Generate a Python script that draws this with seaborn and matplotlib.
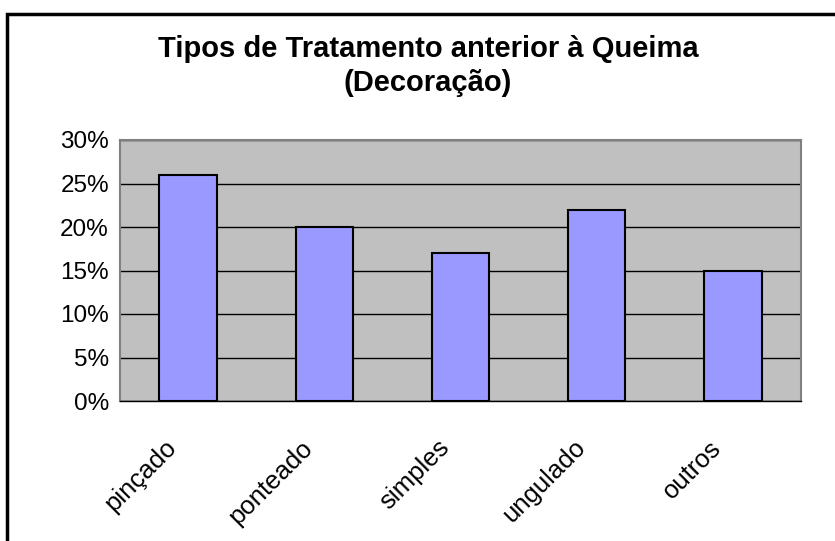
import pandas as pd
import seaborn as sns
import matplotlib.pyplot as plt
from matplotlib.patches import Rectangle
from matplotlib.ticker import FixedLocator, PercentFormatter
import matplotlib.transforms as mtransforms

categories = ["pinçado", "ponteado", "simples", "ungulado", "outros"]
values = [26, 20, 17, 22, 15]
title_lines = ["Tipos de Tratamento anterior à Queima", "(Decoração)"]

df = pd.DataFrame({"tipo": categories, "pct": values})

sns.set_style("white")
plt.rcParams["font.family"] = ["Liberation Sans", "DejaVu Sans"]
plt.rcParams["text.color"] = "black"
plt.rcParams["xtick.labelcolor"] = "black"
plt.rcParams["ytick.labelcolor"] = "black"

fig = plt.figure(figsize=(8.35, 5.41), dpi=100)
ax = fig.add_axes([120 / 835, 1 - 401 / 541, 681 / 835, 261 / 541])

sns.barplot(data=df, x="tipo", y="pct", color="#9999FF", saturation=1,
            width=0.42, edgecolor="black", linewidth=1.5, ax=ax, zorder=3)

ax.set_facecolor("#C0C0C0")
ax.set_xlim(-0.5, 4.5)
ax.set_ylim(0, 30)
ax.set_xlabel("")
ax.set_ylabel("")

ax.yaxis.set_major_locator(FixedLocator(range(0, 31, 5)))
ax.yaxis.set_major_formatter(PercentFormatter(decimals=0))
ax.grid(axis="y", color="black", linewidth=1, zorder=1)
ax.set_axisbelow(True)

for side in ["top", "right", "left"]:
    ax.spines[side].set_color("#808080")
    ax.spines[side].set_linewidth(1.5)
ax.spines["bottom"].set_color("black")
ax.spines["bottom"].set_linewidth(1)

ax.tick_params(axis="y", direction="out", length=5, width=1, color="black",
               labelsize=17.5, pad=3)
ax.tick_params(axis="x", which="major", length=0, labelsize=18.5, pad=0)
ax.set_xticks([i - 0.5 for i in range(6)], minor=True)
ax.tick_params(axis="x", which="minor", direction="out", length=7, width=1,
               color="black")

offset = mtransforms.ScaledTranslation(-15 / 100, -43 / 100, fig.dpi_scale_trans)
for lbl in ax.get_xticklabels():
    lbl.set_rotation(45)
    lbl.set_rotation_mode("anchor")
    lbl.set_ha("right")
    lbl.set_va("center")
    lbl.set_transform(lbl.get_transform() + offset)

fig.text(428 / 835, 1 - 57 / 541, title_lines[0], ha="center", va="baseline",
         fontsize=21, fontweight="bold")
fig.text(428 / 835, 1 - 91 / 541, title_lines[1], ha="center", va="baseline",
         fontsize=21, fontweight="bold")

# outer chart border (right and bottom fall outside the image)
fig.patches.append(Rectangle((7 / 835, -0.1), 1.2, 1.1 - 14 / 541,
                             transform=fig.transFigure, fill=False,
                             edgecolor="black", linewidth=2.5))

fig.savefig("out.png", dpi=100)
